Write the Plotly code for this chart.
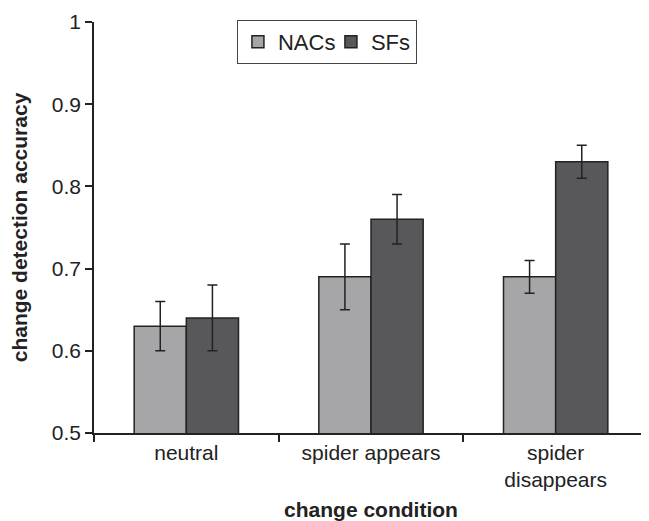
import plotly.graph_objects as go

categories = ["neutral", "spider appears", "spider<br>disappears"]
nacs = [0.63, 0.69, 0.69]
nacs_err = [0.03, 0.04, 0.02]
sfs = [0.64, 0.76, 0.83]
sfs_err = [0.04, 0.03, 0.02]

FONT = "Liberation Sans, Arial, sans-serif"

fig = go.Figure()
fig.add_trace(go.Bar(
    name="NACs", x=categories, y=nacs, legendwidth=48,
    marker=dict(color="#a6a6a9", line=dict(color="#222222", width=1.5)),
    error_y=dict(type="data", array=nacs_err, color="#222222", thickness=1.5, width=5),
))
fig.add_trace(go.Bar(
    name="SFs", x=categories, y=sfs, legendwidth=40,
    marker=dict(color="#58585b", line=dict(color="#222222", width=1.5)),
    error_y=dict(type="data", array=sfs_err, color="#222222", thickness=1.5, width=5),
))

# the page body has an 8px default margin, so the figure is sized to fit the 649x521 window
fig.update_layout(
    width=641, height=513,
    margin=dict(l=86, r=1, t=14, b=88),
    paper_bgcolor="white", plot_bgcolor="white",
    barmode="group", bargap=0.435, bargroupgap=0,
    font=dict(family=FONT, size=21, color="#222222"),
    showlegend=True,
    legend=dict(
        orientation="h", x=0.258, y=1.005, xanchor="left", yanchor="top",
        bordercolor="#444444", borderwidth=1, bgcolor="white",
        font=dict(size=22, color="#222222"),
        traceorder="normal", tracegroupgap=0,
    ),
    xaxis=dict(
        showline=True, linecolor="#222222", linewidth=1.5,
        ticks="outside", ticklen=7, tickcolor="#222222", tickwidth=1.5,
        tickson="boundaries", showgrid=False,
        title=dict(text="<b>change condition</b>", font=dict(size=21), standoff=14),
        tickfont=dict(size=21),
    ),
    yaxis=dict(
        range=[0.5, 1.0], dtick=0.1, tickformat="~g",
        showline=True, linecolor="#222222", linewidth=1.5,
        ticks="outside", ticklen=7, tickcolor="#222222", tickwidth=1.5,
        showgrid=False, zeroline=False,
        title=dict(text="<b>change detection accuracy</b>", font=dict(size=21), standoff=18),
        tickfont=dict(size=21),
    ),
)

fig.write_html("out.html")
